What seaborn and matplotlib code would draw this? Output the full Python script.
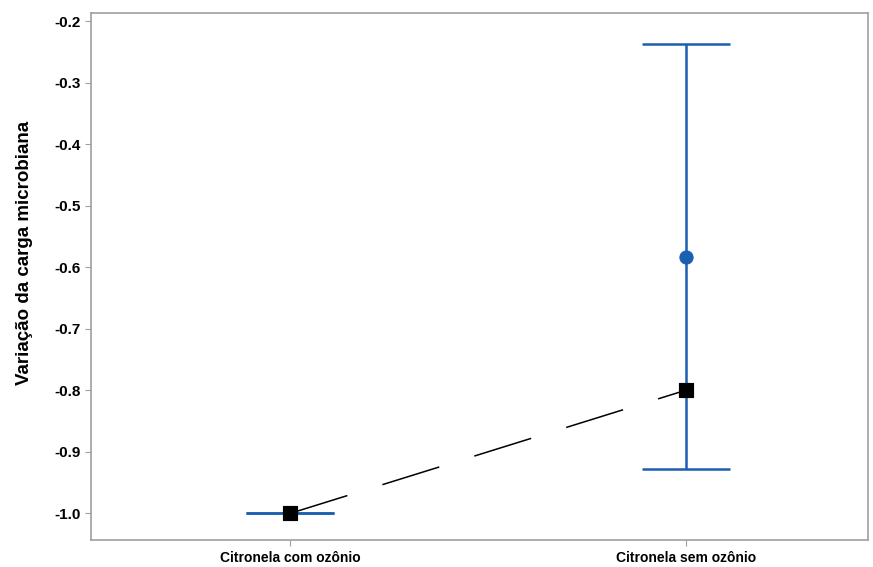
import matplotlib

matplotlib.use('Agg')
import matplotlib.pyplot as plt
import seaborn as sns
import pandas as pd

# dados
categorias = ["Citronela com ozônio", "Citronela sem ozônio"]
media = [-1.0, -0.584]
ic_inferior = [-1.0, -0.928]
ic_superior = [-1.0, -0.237]
mediana = [-1.0, -0.80]

azul = "#1a5fb0"

sns.set_style("white")
plt.rcParams['font.family'] = ['Liberation Sans', 'DejaVu Sans']

fig, ax = plt.subplots(figsize=(8.73, 5.67), dpi=100)

pos = list(range(len(categorias)))
df = pd.DataFrame({"pos": pos, "media": media, "mediana": mediana})

# intervalos
erro_baixo = [m - lo for m, lo in zip(media, ic_inferior)]
erro_cima = [hi - m for m, hi in zip(media, ic_superior)]
ax.errorbar(pos, media, yerr=[erro_baixo, erro_cima], fmt='none',
            ecolor=azul, elinewidth=1.8, capsize=32, capthick=1.8, zorder=2)
sns.scatterplot(data=df, x="pos", y="media", color=azul, s=90,
                edgecolor=azul, zorder=3, ax=ax)

# linha tracejada com quadrados
sns.lineplot(data=df, x="pos", y="mediana", color="black", linewidth=1.1,
             ax=ax, zorder=4)
ax.lines[-1].set_dashes([39, 24])
sns.scatterplot(data=df, x="pos", y="mediana", color="black", marker="s",
                s=110, edgecolor="black", zorder=5, ax=ax)

ax.set_xlim(-0.505, 1.46)
ax.set_ylim(-1.044, -0.187)
ax.set_xticks(pos)
ax.set_xticklabels(categorias, fontsize=10, fontweight='bold', color="black")
ax.set_yticks([-1.0, -0.9, -0.8, -0.7, -0.6, -0.5, -0.4, -0.3, -0.2])
ax.set_yticklabels(["-1.0", "-0.9", "-0.8", "-0.7", "-0.6", "-0.5", "-0.4",
                    "-0.3", "-0.2"], fontsize=11, fontweight='bold',
                   color="black")
ax.set_xlabel("")
ax.set_ylabel("Variação da carga microbiana", fontsize=13.5, fontweight='bold',
              color="black")
ax.yaxis.set_label_coords(-0.074, 0.546)

for s in ax.spines.values():
    s.set_color("#a0a0a0")
    s.set_linewidth(1.2)
ax.tick_params(axis='both', direction='out', length=4, color="#a0a0a0",
               left=True, bottom=True)

plt.subplots_adjust(left=0.104, right=0.994, top=0.977, bottom=0.047)
plt.savefig("out.png", dpi=100)
plt.close()
